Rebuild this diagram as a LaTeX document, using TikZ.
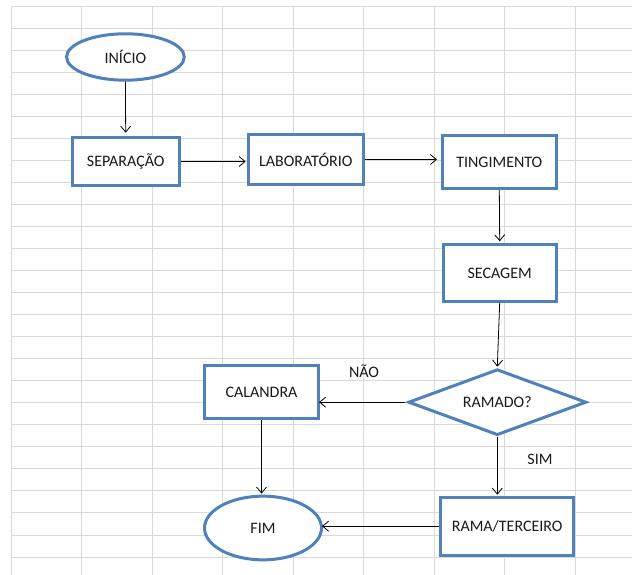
\documentclass[tikz,border=0pt]{standalone}
\usepackage{fontspec}
\setmainfont{Carlito}
\usetikzlibrary{shapes.geometric,arrows.meta}
\definecolor{boxblue}{HTML}{4F81BD}
\definecolor{gridgray}{HTML}{D9D9D9}
\definecolor{txt}{HTML}{1A1A1A}
\begin{document}
\begin{tikzpicture}[x=1pt,y=-1pt,
  font=\fontsize{16}{19}\selectfont,
  every node/.style={text=txt},
  proc/.style={draw=boxblue,line width=3pt,fill=white,rectangle,inner sep=0pt},
  term/.style={draw=boxblue,line width=3pt,fill=white,ellipse,inner sep=0pt},
  dec/.style={draw=boxblue,line width=3pt,fill=white,diamond,shape aspect=2.67,inner sep=0pt},
  flow/.style={draw=black,line width=0.8pt,-{Straight Barb[length=6pt,width=10pt]}},
  lbl/.style={inner sep=0pt}]
\useasboundingbox (0,0) rectangle (632,575);
\fill[white] (0,0) rectangle (632,575);
% spreadsheet grid
\foreach \i in {0,...,8} \draw[gridgray,line width=1pt] ({11+70.5*\i},6.3) -- ({11+70.5*\i},575);
\foreach \j in {0,...,25} \draw[gridgray,line width=1pt] (11,{6.3+22.03*\j}) -- (632,{6.3+22.03*\j});
% nodes
\node[term,minimum width=117.7pt,minimum height=46.4pt] (ini) at (125.4,57) {INÍCIO};
\node[proc,minimum width=107pt,minimum height=48.6pt] (sep) at (125.7,161.5) {SEPARAÇÃO};
\node[proc,minimum width=115.3pt,minimum height=49.4pt] (lab) at (305.8,159.5) {LABORATÓRIO};
\node[proc,minimum width=113.7pt,minimum height=53pt] (ting) at (499.3,162) {TINGIMENTO};
\node[proc,minimum width=113pt,minimum height=56.4pt] (sec) at (499.7,273) {SECAGEM};
\node[dec,minimum width=178pt,minimum height=66pt] (dia) at (497.3,402.2) {RAMADO?};
\node[proc,minimum width=114pt,minimum height=52.7pt] (cal) at (261.5,392) {CALANDRA};
\node[proc,minimum width=132.7pt,minimum height=58pt] (rama) at (507.2,526.2) {RAMA/TERCEIRO};
\node[term,minimum width=117pt,minimum height=63.7pt] (fim) at (263,528) {FIM};
\node[lbl] (nao) at (364,371) {NÃO};
\node[lbl] (sim) at (540,459.3) {SIM};
% connectors
\draw[flow] (ini.south) -- ([yshift=3pt]sep.north);
\draw[flow] (sep.east) -- ([xshift=-1pt]sep.east -| lab.west);
\draw[flow] (lab.east) -- ([xshift=-4pt]lab.east -| ting.west);
\draw[flow] (ting.south) -- ([yshift=2pt]sec.north);
\draw[flow] (sec.south) -- ([yshift=1pt]dia.north);
\draw[flow] ([xshift=-2pt]dia.west) -- ([xshift=-1pt]dia.west -| cal.east);
\draw[flow] (dia.south) -- ([yshift=1pt]dia.south |- rama.north);
\draw[flow] (cal.south) -- ([yshift=1pt]cal.south |- fim.north);
\draw[flow] (rama.west) -- ([xshift=-1pt]rama.west -| fim.east);
\end{tikzpicture}
\end{document}
